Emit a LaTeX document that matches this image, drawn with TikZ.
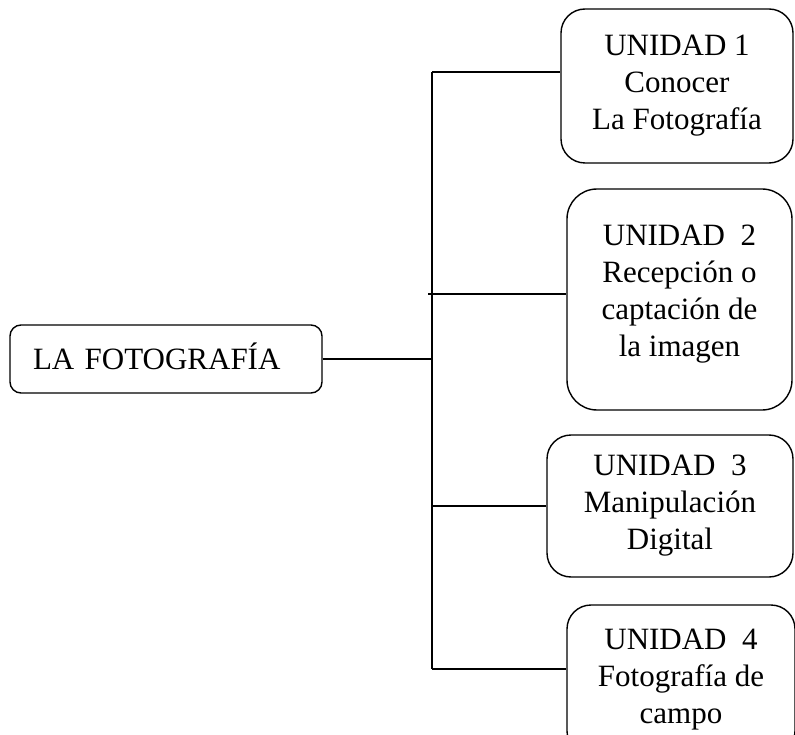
\documentclass[tikz,border=0pt]{standalone}
\usepackage{fontspec}
\setmainfont{Liberation Serif}

\begin{document}
\begin{tikzpicture}[x=1pt, y=-1pt, line width=1.4pt,
		caja/.style={draw, rounded corners=#1, align=center, inner sep=0pt,
			font=\fontsize{31pt}{37pt}\selectfont},
		caja/.default=24pt]
		\clip (0,0) rectangle (795,735);
		
		\node[caja=11pt, minimum height=68pt, text width=266pt, inner xsep=23pt, align=left,
			text height=21pt, text depth=0pt] (foto) at (166,359) {LA FOTOGRAFÍA};
		
		\node[caja, minimum width=232pt, minimum height=154pt] (u1) at (677,86)
			{UNIDAD 1\\Conocer\\La Fotografía};
		\node[caja=30pt, minimum width=225pt, minimum height=221pt] (u2) at (679.5,299.5)
			{UNIDAD~~2\\Recepción o\\captación de\\la imagen\\[-20pt]\mbox{}};
		\node[caja, minimum width=246pt, minimum height=142pt] (u3) at (670,506)
			{UNIDAD~~3\\Manipulación\\Digital};
		\node[caja, minimum width=228pt, minimum height=150pt] (u4) at (681,680)
			{UNIDAD~~4\\Fotografía de\\campo};
		
		\coordinate (t1) at (432,72);
		\coordinate (t2) at (432,294);
		\coordinate (t3) at (432,506);
		\coordinate (t4) at (432,669);
		
		\draw (t1) -- (t4);
		\draw (foto.east) -- (foto.east -| t1);
		\foreach \i in {1,...,4}
			\draw (t\i) -- (t\i -| u\i.west);
		\draw ([xshift=-4pt]t2) -- (t2);
		
	\end{tikzpicture}
\end{document}
